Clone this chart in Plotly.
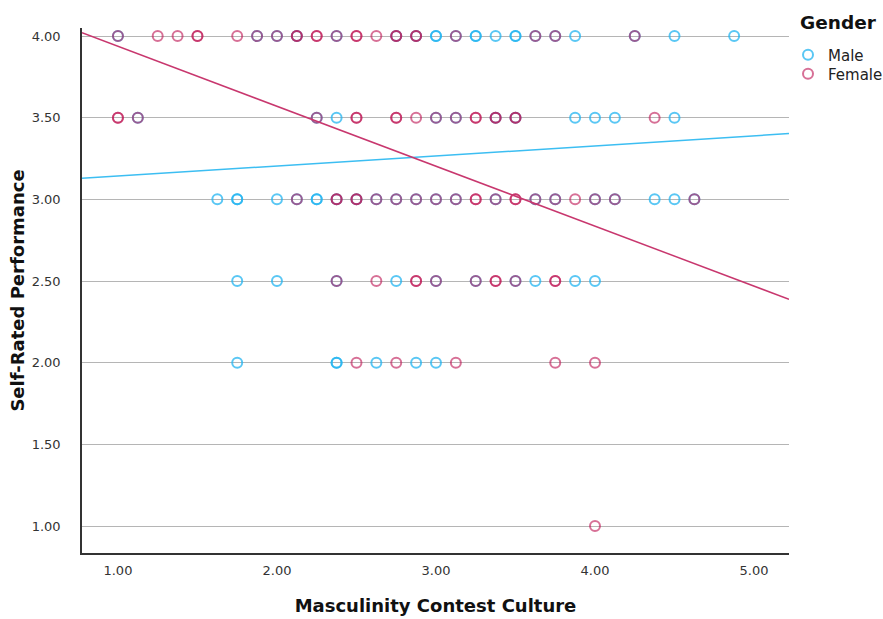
import plotly.graph_objects as go

# ---- data ----
male_400 = [1.0, 1.875, 2.0, 2.125, 2.375, 2.75, 2.875, 3.0, 3.0, 3.125, 3.25, 3.25, 3.375, 3.5, 3.5,
            3.625, 3.75, 3.875, 4.25, 4.5, 4.875]
female_400 = [1.0, 1.25, 1.375, 1.5, 1.5, 1.75, 1.875, 2.0, 2.125, 2.125, 2.25, 2.25, 2.375, 2.5, 2.5,
              2.625, 2.75, 2.75, 2.875, 2.875, 3.125, 3.625, 3.75, 4.25]
male_350 = [1.125, 2.25, 2.375, 3.0, 3.125, 3.375, 3.5, 3.875, 4.0, 4.125, 4.5]
female_350 = [1.0, 1.0, 1.125, 2.25, 2.5, 2.5, 2.75, 2.75, 2.875, 3.0, 3.125, 3.25, 3.25, 3.375, 3.375,
              3.5, 3.5, 4.375]
male_300 = [1.625, 1.75, 1.75, 2.0, 2.125, 2.25, 2.25, 2.375, 2.5, 2.625, 2.75, 2.875, 3.0, 3.125,
            3.375, 3.625, 3.75, 4.0, 4.125, 4.375, 4.5, 4.625]
female_300 = [2.125, 2.375, 2.375, 2.5, 2.5, 2.625, 2.75, 2.875, 3.0, 3.125, 3.25, 3.25, 3.375, 3.5,
              3.5, 3.625, 3.75, 3.875, 4.0, 4.125, 4.625]
male_250 = [1.75, 2.0, 2.375, 2.75, 3.0, 3.25, 3.5, 3.625, 3.875, 4.0]
female_250 = [2.375, 2.625, 2.875, 2.875, 3.0, 3.25, 3.375, 3.375, 3.5, 3.75, 3.75]
male_200 = [1.75, 2.375, 2.375, 2.625, 2.875, 3.0]
female_200 = [2.5, 2.75, 3.125, 3.75, 4.0]
male_100 = []
female_100 = [4.0]

# fit lines (intercept, slope)
male_fit = (3.081, 0.0616)
female_fit = (4.304, -0.367)

x_range = [0.774, 5.22]
y_range = [0.835, 4.049]
tick_vals_x = [1, 2, 3, 4, 5]
tick_text_x = ["1.00", "2.00", "3.00", "4.00", "5.00"]
tick_vals_y = [1, 1.5, 2, 2.5, 3, 3.5, 4]
tick_text_y = ["1.00", "1.50", "2.00", "2.50", "3.00", "3.50", "4.00"]

male_rows = {4.0: male_400, 3.5: male_350, 3.0: male_300, 2.5: male_250, 2.0: male_200, 1.0: male_100}
female_rows = {4.0: female_400, 3.5: female_350, 3.0: female_300, 2.5: female_250, 2.0: female_200, 1.0: female_100}

def flatten(rows):
    xs, ys = [], []
    for y, lst in rows.items():
        for x in lst:
            xs.append(x)
            ys.append(y)
    return xs, ys

mx, my = flatten(male_rows)
fx, fy = flatten(female_rows)

MALE = "rgba(35,180,240,0.75)"
FEMALE = "rgba(190,25,85,0.62)"
MALE_LINE = "rgb(60,190,242)"
FEMALE_LINE = "rgb(200,55,110)"

fig = go.Figure()
fig.add_trace(go.Scatter(x=mx, y=my, mode="markers", name="Male", legend="legend",
                         marker=dict(symbol="circle-open", size=10, color=MALE,
                                     line=dict(width=2, color=MALE))))
fig.add_trace(go.Scatter(x=fx, y=fy, mode="markers", name="Female", legend="legend2",
                         marker=dict(symbol="circle-open", size=10, color=FEMALE,
                                     line=dict(width=2, color=FEMALE))))
fig.add_trace(go.Scatter(x=x_range, y=[male_fit[0] + male_fit[1] * v for v in x_range],
                         mode="lines", line=dict(color=MALE_LINE, width=1.5), showlegend=False,
                         hoverinfo="skip"))
fig.add_trace(go.Scatter(x=x_range, y=[female_fit[0] + female_fit[1] * v for v in x_range],
                         mode="lines", line=dict(color=FEMALE_LINE, width=1.5), showlegend=False,
                         hoverinfo="skip"))

FONT = "DejaVu Sans"
leg_common = dict(xanchor="left", yanchor="middle", x=0.9986, itemwidth=30,
                  font=dict(size=15, color="#222", family=FONT), bgcolor="rgba(0,0,0,0)")
fig.update_layout(
    width=883, height=619,
    margin=dict(l=82, r=94, t=28, b=66, autoexpand=False),
    paper_bgcolor="white", plot_bgcolor="white",
    font=dict(family=FONT, color="#222"),
    legend=dict(y=0.9486, **leg_common),
    legend2=dict(y=0.9124, **leg_common),
    annotations=[dict(text="<b>Gender</b>", xref="paper", yref="paper", x=1.0127, y=1.0114,
                      xanchor="left", yanchor="middle", showarrow=False,
                      font=dict(size=18.5, color="#111", family=FONT))],
    xaxis=dict(range=x_range, tickvals=tick_vals_x, ticktext=tick_text_x, automargin=False,
               showgrid=False, zeroline=False, showline=True, linecolor="#333", linewidth=1.5,
               ticks="", ticklabelstandoff=5, tickfont=dict(size=13, color="#333"),
               title=dict(text="<b>Masculinity Contest Culture</b>", font=dict(size=18, color="#111"),
                          standoff=22)),
    yaxis=dict(range=y_range, tickvals=tick_vals_y, ticktext=tick_text_y, automargin=False,
               showgrid=True, gridcolor="#b5b5b5", gridwidth=1, zeroline=False,
               showline=True, linecolor="#333", linewidth=1.5,
               ticks="", ticklabelstandoff=17, tickfont=dict(size=13, color="#333"),
               title=dict(text="<b>Self-Rated Performance</b>", font=dict(size=18, color="#111"),
                          standoff=2)),
)

fig.write_html("out.html", config={"displayModeBar": False},
               post_script="document.body.style.margin='0';")
